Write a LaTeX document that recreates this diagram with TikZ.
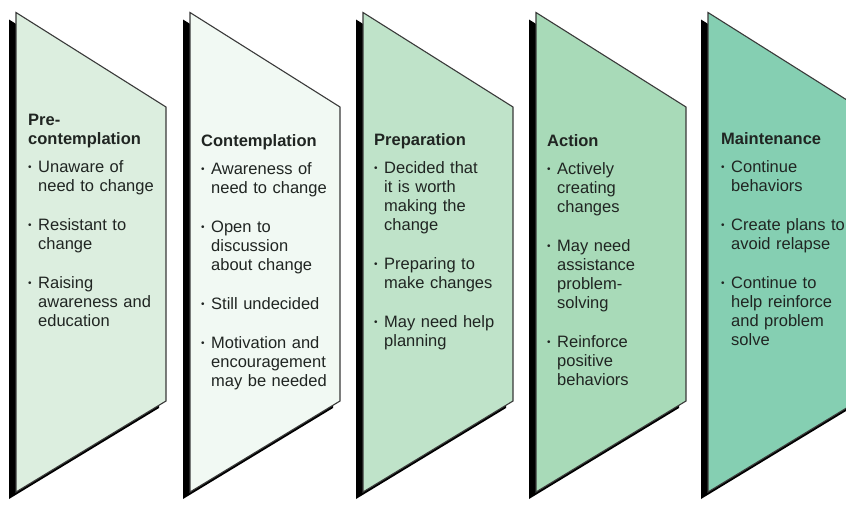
\documentclass[tikz,border=0pt]{standalone}
\usepackage{fontspec}
\setmainfont{Liberation Sans}
\definecolor{pone}{HTML}{DCEEDF}
\definecolor{ptwo}{HTML}{F1F9F3}
\definecolor{pthree}{HTML}{BFE3C9}
\definecolor{pfour}{HTML}{A8DAB8}
\definecolor{pfive}{HTML}{85CFB2}
\definecolor{edgegray}{HTML}{3A3A3A}
\definecolor{inkdark}{HTML}{202522}
\newcommand\bu{\makebox[10pt][l]{\raisebox{1.2pt}{\fontsize{10}{10}\selectfont\textbullet}}}
\newcommand\ind{\hspace*{10pt}}
\newcommand\stagepanel[2]{%
  \fill[black] ({#1-7},19.5) -- ({#1+143},114) -- ({#1+143},408) -- ({#1-7},499) -- cycle;
  \draw[panelbox, fill=#2] (#1,12.5) -- ({#1+150},107) -- ({#1+150},401) -- (#1,492) -- cycle;
}
\tikzset{
  panelbox/.style={draw=edgegray, line width=1.1pt, line join=miter},
  stagetext/.style={anchor=base west, inner sep=0pt, text width=140pt, align=left,
    text=inkdark, font=\fontsize{16.5}{19}\selectfont}
}
\begin{document}
\begin{tikzpicture}[x=1pt,y=-1pt]
\useasboundingbox (0,0) rectangle (846,504);
\clip (0,0) rectangle (846,504);
\fill[white] (0,0) rectangle (846,504);
\stagepanel{16}{pone}
\stagepanel{190}{ptwo}
\stagepanel{363}{pthree}
\stagepanel{536}{pfour}
\stagepanel{708}{pfive}

\node[stagetext] (precon) at (28,125) {\textbf{Pre-}\\\textbf{contemplation}\\[9pt]
\bu Unaware of\\\ind need to change\\[20pt]
\bu Resistant to\\\ind change\\[20pt]
\bu Raising\\\ind awareness and\\\ind education};

\node[stagetext] (contem) at (201,146) {\textbf{Contemplation}\\[9pt]
\bu Awareness of\\\ind need to change\\[20pt]
\bu Open to\\\ind discussion\\\ind about change\\[20pt]
\bu Still undecided\\[20pt]
\bu Motivation and\\\ind encouragement\\\ind may be needed};

\node[stagetext] (prep) at (374,145) {\textbf{Preparation}\\[9pt]
\bu Decided that\\\ind it is worth\\\ind making the\\\ind change\\[20pt]
\bu Preparing to\\\ind make changes\\[20pt]
\bu May need help\\\ind planning};

\node[stagetext] (action) at (547,146) {\textbf{Action}\\[9pt]
\bu Actively\\\ind creating\\\ind changes\\[20pt]
\bu May need\\\ind assistance\\\ind problem-\\\ind solving\\[20pt]
\bu Reinforce\\\ind positive\\\ind behaviors};

\node[stagetext] (maint) at (721,144) {\textbf{Maintenance}\\[9pt]
\bu Continue\\\ind behaviors\\[20pt]
\bu Create plans to\\\ind avoid relapse\\[20pt]
\bu Continue to\\\ind help reinforce\\\ind and problem\\\ind solve};
\end{tikzpicture}
\end{document}
